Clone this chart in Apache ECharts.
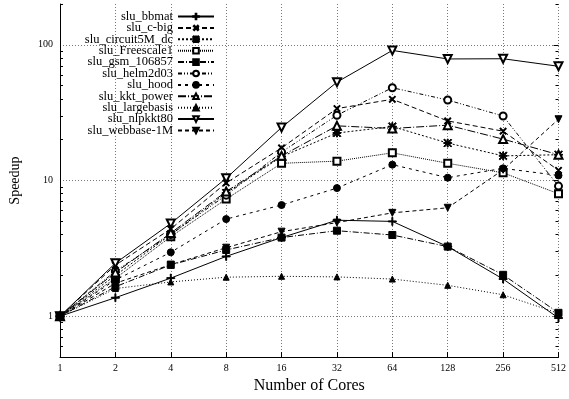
<!DOCTYPE html>
<html>
<head>
<meta charset="utf-8">
<script src="https://cdn.jsdelivr.net/npm/echarts@6/dist/echarts.min.js"></script>
<style>
  html, body { margin: 0; padding: 0; background: #fff; }
  #container { width: 569px; height: 399px; }
</style>
</head>
<body>
<div id="container"></div>
<script>
// cores on the x axis
const cores = ['1', '2', '4', '8', '16', '32', '64', '128', '256', '512'];

// speedup per matrix
const bbmat       = [1, 1.37, 1.91, 2.76, 3.8, 5.1, 5.0, 3.26, 1.88, 0.97];
const cBig        = [1, 2.38, 4.4, 9.6, 17.4, 33.9, 39.7, 27.5, 23.1, 11.9];
const circuit5M   = [1, 2.0, 4.0, 8.1, 15.0, 22.4, 25.0, 18.9, 15.2, 15.5];
const freescale1  = [1, 1.9, 3.86, 7.3, 13.4, 13.9, 16.0, 13.4, 11.4, 8.0];
const gsm106857   = [1, 1.65, 2.39, 3.08, 3.8, 4.27, 3.97, 3.26, 2.02, 1.06];
const helm2d03    = [1, 2.15, 4.0, 7.8, 16.2, 30.3, 48.3, 39.2, 29.9, 9.1];
const hood        = [1, 1.85, 2.96, 5.2, 6.6, 8.8, 13.1, 10.5, 12.3, 10.9];
const kktPower    = [1, 2.1, 4.1, 8.3, 15.2, 25.3, 24.2, 25.6, 20.2, 15.5];
const largebasis  = [1, 1.6, 1.79, 1.94, 1.97, 1.95, 1.88, 1.69, 1.44, 1.05];
const nlpkkt80    = [1, 2.46, 4.83, 10.4, 24.6, 53.1, 91, 78.7, 79, 69.5];
const webbase1M   = [1, 1.75, 2.4, 3.2, 4.2, 4.9, 5.78, 6.3, 12, 28.3];

const yMajor = [1, 10, 100];
const yMinor = [0.6, 0.7, 0.8, 0.9, 2, 3, 4, 5, 6, 7, 8, 9, 20, 30, 40, 50, 60, 70, 80, 90, 200];

const FONT = 'Liberation Serif';
const PLUS = 'path://M4.4,0h1.2v10h-1.2zM0,4.4h10v1.2h-10z';
const STAR = PLUS + 'M0,1L1,0L10,9L9,10ZM9,0L10,1L1,10L0,9Z';

const lines = [
  { name: 'slu_bbmat', data: bbmat, symbol: PLUS, size: 8, dash: 'solid' },
  { name: 'slu_c-big', data: cBig, symbol: PLUS, rotate: 45, size: 8, dash: [5, 3] },
  { name: 'slu_circuit5M_dc', data: circuit5M, symbol: STAR, size: 8, dash: [2, 2] },
  { name: 'slu_Freescale1', data: freescale1, symbol: 'emptyRect', size: 7, dash: [1, 1] },
  { name: 'slu_gsm_106857', data: gsm106857, symbol: 'rect', size: 7, dash: [6, 2, 1, 2] },
  { name: 'slu_helm2d03', data: helm2d03, symbol: 'emptyCircle', size: 7, dash: [4, 2, 1, 2, 1, 2] },
  { name: 'slu_hood', data: hood, symbol: 'circle', size: 7, dash: [3, 4] },
  { name: 'slu_kkt_power', data: kktPower, symbol: 'emptyTriangle', size: 8, dash: [8, 2, 1, 2] },
  { name: 'slu_largebasis', data: largebasis, symbol: 'triangle', size: 6, dash: [1, 2] },
  { name: 'slu_nlpkkt80', data: nlpkkt80, symbol: 'emptyTriangle', rotate: 180, size: 8, dash: 'solid' },
  { name: 'slu_webbase-1M', data: webbase1M, symbol: 'triangle', rotate: 180, size: 7, dash: [4, 3] }
];

// extra log axes used only for tick marks (minor ticks and the right-hand mirror)
const yBase = {
  type: 'log',
  logBase: 10,
  min: 0.5,
  max: 200,
  axisLine: { show: false },
  axisLabel: { show: false },
  splitLine: { show: false }
};

var myChart = echarts.init(document.getElementById('container'));

const option = {
  animation: false,
  backgroundColor: '#fff',
  grid: { left: 60, right: 9, top: 4, bottom: 39 },
  legend: {
    orient: 'vertical',
    align: 'right',
    right: 354,
    top: 10,
    padding: 0,
    itemGap: -1.6,
    itemWidth: 36,
    itemHeight: 7,
    data: lines.map((l) => l.name),
    textStyle: { fontFamily: FONT, fontSize: 12.5, color: '#000' }
  },
  xAxis: {
    type: 'category',
    data: cores,
    boundaryGap: false,
    name: 'Number of Cores',
    nameLocation: 'middle',
    nameGap: 20,
    nameTextStyle: { fontFamily: FONT, fontSize: 16, color: '#000' },
    axisLine: { lineStyle: { color: '#000', width: 1 } },
    axisTick: { inside: true, length: 5, lineStyle: { color: '#000' } },
    axisLabel: { fontFamily: FONT, fontSize: 10, color: '#000', margin: 6 },
    splitLine: { show: true, lineStyle: { type: [1, 2], color: '#777', width: 1 } }
  },
  yAxis: [
    {
      type: 'log',
      logBase: 10,
      min: 0.5,
      max: 200,
      position: 'left',
      name: 'Speedup',
      nameLocation: 'middle',
      nameGap: 38,
      nameTextStyle: { fontFamily: FONT, fontSize: 14, color: '#000' },
      axisLine: { show: true, lineStyle: { color: '#000', width: 1 } },
      axisTick: { inside: true, length: 5, customValues: yMajor, lineStyle: { color: '#000' } },
      axisLabel: { customValues: yMajor, fontFamily: FONT, fontSize: 10, color: '#000', margin: 7 },
      splitLine: { show: true, lineStyle: { type: [1, 2], color: '#777', width: 1 } }
    },
    Object.assign({}, yBase, {
      position: 'left',
      axisTick: { show: true, inside: true, length: 3, customValues: yMinor, lineStyle: { color: '#000' } }
    }),
    Object.assign({}, yBase, {
      position: 'right',
      axisTick: { show: true, inside: true, length: 5, customValues: yMajor, lineStyle: { color: '#000' } }
    }),
    Object.assign({}, yBase, {
      position: 'right',
      axisTick: { show: true, inside: true, length: 3, customValues: yMinor, lineStyle: { color: '#000' } }
    })
  ],
  series: lines.map((l) => ({
    name: l.name,
    type: 'line',
    data: l.data,
    symbol: l.symbol,
    symbolSize: l.size,
    symbolRotate: l.rotate || 0,
    showAllSymbol: true,
    color: '#000',
    lineStyle: { color: '#000', width: 1, type: l.dash },
    itemStyle: { color: '#000', borderColor: '#000', borderWidth: 1 }
  }))
};

myChart.setOption(option);
</script>
</body>
</html>
